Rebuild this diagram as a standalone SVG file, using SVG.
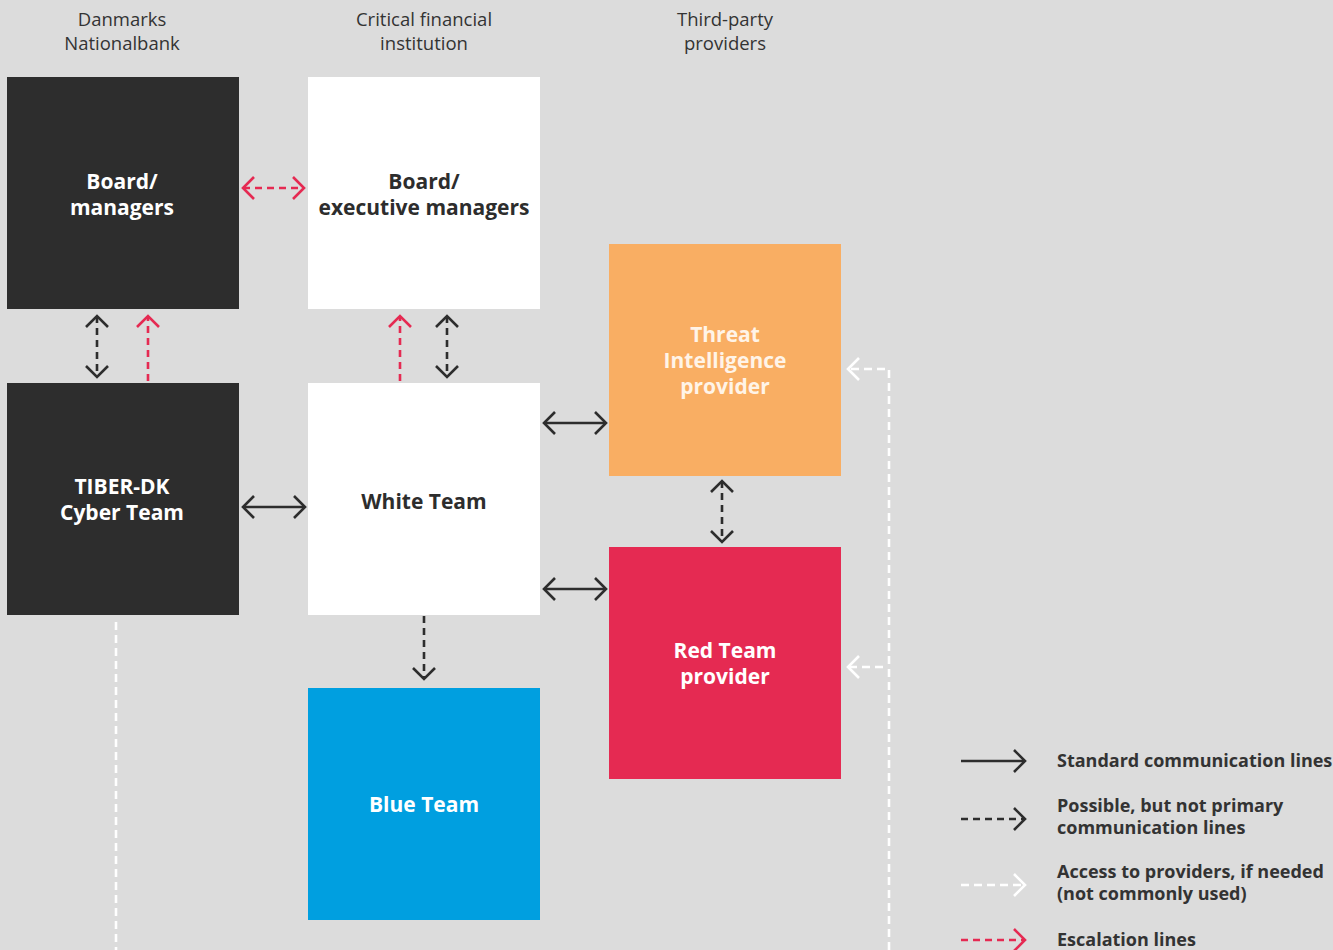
<svg xmlns="http://www.w3.org/2000/svg" width="1333" height="950" viewBox="0 0 1333 950">
<defs>
<marker id="ad" markerUnits="userSpaceOnUse" markerWidth="30" markerHeight="30" viewBox="-15 -15 30 30" refX="0" refY="0" orient="auto-start-reverse"><path d="M-11,-11 L0,0 L-11,11" fill="none" stroke="#2d2d2d" stroke-width="2.6"/></marker>
<marker id="ar" markerUnits="userSpaceOnUse" markerWidth="30" markerHeight="30" viewBox="-15 -15 30 30" refX="0" refY="0" orient="auto-start-reverse"><path d="M-11,-11 L0,0 L-11,11" fill="none" stroke="#e52a52" stroke-width="2.6"/></marker>
<marker id="aw" markerUnits="userSpaceOnUse" markerWidth="30" markerHeight="30" viewBox="-15 -15 30 30" refX="0" refY="0" orient="auto-start-reverse"><path d="M-11,-11 L0,0 L-11,11" fill="none" stroke="#ffffff" stroke-width="2.6"/></marker>
</defs>
<style>
.hdr{font-family:"Open Sans","Liberation Sans",sans-serif;font-size:18.5px;fill:#333;text-anchor:middle}
.nt{font-family:"Open Sans","Liberation Sans",sans-serif;font-size:21px;font-weight:bold;text-anchor:middle}
.lg{font-family:"Open Sans","Liberation Sans",sans-serif;font-size:18px;font-weight:bold;fill:#333}
.s{fill:none;stroke:#2d2d2d;stroke-width:2.6}
.d{fill:none;stroke:#2d2d2d;stroke-width:2.6;stroke-dasharray:7 5}
.r{fill:none;stroke:#e52a52;stroke-width:2.6;stroke-dasharray:7 5}
.w{fill:none;stroke:#ffffff;stroke-width:2.6;stroke-dasharray:8 5}
</style>
<rect width="1333" height="950" fill="#dcdcdc"/>
<g id="headers">
<text class="hdr" x="122" y="26">Danmarks</text>
<text class="hdr" x="122" y="50">Nationalbank</text>
<text class="hdr" x="424" y="26">Critical financial</text>
<text class="hdr" x="424" y="50">institution</text>
<text class="hdr" x="725" y="26">Third-party</text>
<text class="hdr" x="725" y="50">providers</text>
</g>
<g id="dn-board">
<rect x="7" y="77" width="232" height="232" fill="#2d2d2d"/>
<text class="nt" x="122" y="189" fill="#ffffff">Board/</text>
<text class="nt" x="122" y="215" fill="#ffffff">managers</text>
</g>
<g id="cfi-board">
<rect x="308" y="77" width="232" height="232" fill="#ffffff"/>
<text class="nt" x="424" y="189" fill="#2d2d2d">Board/</text>
<text class="nt" x="424" y="215" fill="#2d2d2d">executive managers</text>
</g>
<g id="tiber">
<rect x="7" y="383" width="232" height="232" fill="#2d2d2d"/>
<text class="nt" x="122" y="494" fill="#ffffff">TIBER-DK</text>
<text class="nt" x="122" y="520" fill="#ffffff">Cyber Team</text>
</g>
<g id="white-team">
<rect x="308" y="383" width="232" height="232" fill="#ffffff"/>
<text class="nt" x="424" y="509" fill="#2d2d2d">White Team</text>
</g>
<g id="threat-intel">
<rect x="609" y="244" width="232" height="232" fill="#f9ae63"/>
<text class="nt" x="725" y="342" fill="#fff4e8">Threat</text>
<text class="nt" x="725" y="368" fill="#fff4e8">Intelligence</text>
<text class="nt" x="725" y="394" fill="#fff4e8">provider</text>
</g>
<g id="red-team">
<rect x="609" y="547" width="232" height="232" fill="#e52a52"/>
<text class="nt" x="725" y="658" fill="#ffffff">Red Team</text>
<text class="nt" x="725" y="684" fill="#ffffff">provider</text>
</g>
<g id="blue-team">
<rect x="308" y="688" width="232" height="232" fill="#009fe0"/>
<text class="nt" x="424" y="812" fill="#ffffff">Blue Team</text>
</g>
<g id="connectors">
<line class="r" x1="243" y1="188" x2="304" y2="188" marker-start="url(#ar)" marker-end="url(#ar)"/>
<line class="d" x1="97" y1="316" x2="97" y2="377" marker-start="url(#ad)" marker-end="url(#ad)"/>
<line class="r" x1="148" y1="381" x2="148" y2="316" marker-end="url(#ar)"/>
<line class="r" x1="400" y1="381" x2="400" y2="316" marker-end="url(#ar)"/>
<line class="d" x1="447" y1="316" x2="447" y2="377" marker-start="url(#ad)" marker-end="url(#ad)"/>
<line class="s" x1="243" y1="507" x2="305" y2="507" marker-start="url(#ad)" marker-end="url(#ad)"/>
<line class="s" x1="544" y1="423" x2="606" y2="423" marker-start="url(#ad)" marker-end="url(#ad)"/>
<line class="s" x1="544" y1="589" x2="606" y2="589" marker-start="url(#ad)" marker-end="url(#ad)"/>
<line class="d" x1="722" y1="481" x2="722" y2="542" marker-start="url(#ad)" marker-end="url(#ad)"/>
<line class="d" x1="424" y1="616" x2="424" y2="679" marker-end="url(#ad)"/>
<line class="w" x1="116" y1="622" x2="116" y2="950"/>
<polyline class="w" points="889,950 889,369 848,369" marker-end="url(#aw)"/>
<line class="w" x1="883" y1="667" x2="848" y2="667" stroke-dasharray="13 10" marker-end="url(#aw)"/>
</g>
<g id="legend">
<line class="s" x1="961" y1="761" x2="1025" y2="761" marker-end="url(#ad)"/>
<text class="lg" x="1057" y="767">Standard communication lines</text>
<line class="d" x1="961" y1="819" x2="1025" y2="819" marker-end="url(#ad)"/>
<text class="lg" x="1057" y="812">Possible, but not primary</text>
<text class="lg" x="1057" y="834">communication lines</text>
<line class="w" x1="961" y1="885" x2="1025" y2="885" marker-end="url(#aw)"/>
<text class="lg" x="1057" y="878">Access to providers, if needed</text>
<text class="lg" x="1057" y="900">(not commonly used)</text>
<line class="r" x1="961" y1="940" x2="1025" y2="940" marker-end="url(#ar)"/>
<text class="lg" x="1057" y="946">Escalation lines</text>
</g>
</svg>
